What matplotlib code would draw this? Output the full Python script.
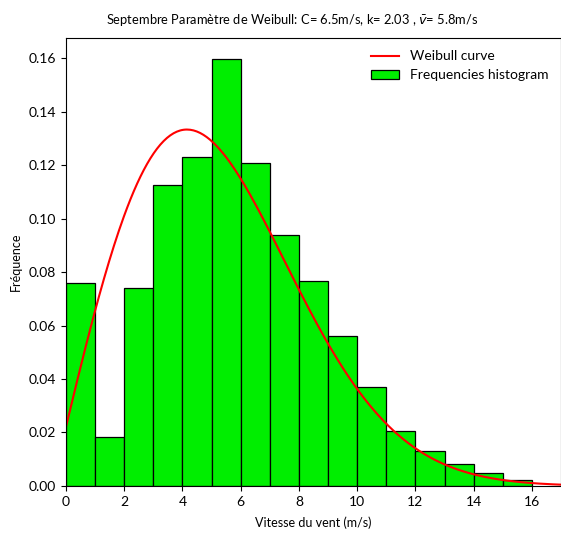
import numpy as np
import matplotlib.pyplot as plt

plt.rcParams['font.family'] = ['Lato', 'DejaVu Sans']

# Monthly wind speed frequencies (1 m/s bins) and fitted Weibull parameters
bin_edges = list(range(0, 16))
frequencies = [0.0758, 0.0184, 0.0739, 0.1125, 0.1229, 0.1598, 0.1209, 0.0938,
               0.0768, 0.0561, 0.0370, 0.0206, 0.0131, 0.0083, 0.0049, 0.0022]
C = 6.5
k = 2.03
v_mean = 5.8


def weibull_pdf(v, c, shape):
    return (shape / c) * (v / c) ** (shape - 1) * np.exp(-(v / c) ** shape)


fig = plt.figure(figsize=(5.61, 5.38), dpi=100)
ax = fig.add_axes([0.1176, 0.0967, 0.8824, 0.8327])

# curve evaluated at bin centres, drawn from the bin's left edge
xs = np.linspace(0, 17, 300)
ax.plot(xs, weibull_pdf(xs + 0.5, C, k), color='red', lw=1.5, label='Weibull curve')
ax.bar(bin_edges, frequencies, width=1.0, align='edge', color='#00ee00',
       edgecolor='black', linewidth=0.9, label='Frequencies histogram')

ax.set_xlim(0, 17)
ax.set_ylim(0, 0.1675)
ax.set_xticks(range(0, 17, 2))
ax.set_yticks(np.arange(0, 0.161, 0.02))
ax.yaxis.set_major_formatter(plt.FormatStrFormatter('%.2f'))
ax.tick_params(labelsize=10)

ax.set_xlabel('Vitesse du vent (m/s)', fontsize=9, labelpad=6)
ax.set_ylabel('Fréquence', fontsize=9, labelpad=5)
ax.set_title(f'Septembre Paramètre de Weibull: C= {C}m/s, k= {k} , $\\bar{{v}}$= {v_mean}m/s',
             fontsize=9.3, x=0.457, pad=10)
ax.legend(loc='upper right', frameon=False, fontsize=10)

fig.savefig('out.png', dpi=100)
